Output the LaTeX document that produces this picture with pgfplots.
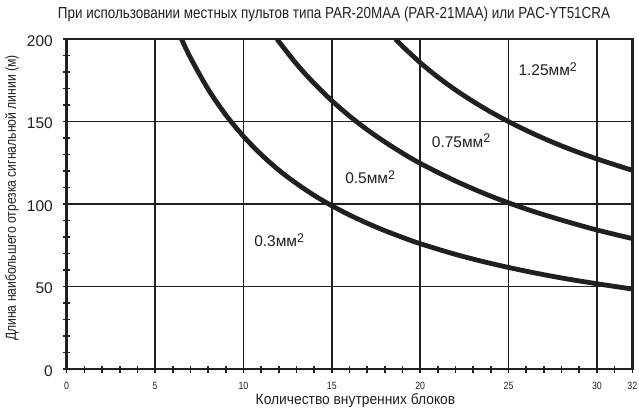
\documentclass[border=0pt]{standalone}
\usepackage{pgfplots}
\pgfplotsset{compat=1.18}
\usepackage{fontspec}
\setmainfont{Liberation Sans}
\newfontfamily\narrow{Liberation Sans}[FakeStretch=0.84]
\newfontfamily\narrowb{Liberation Sans}[FakeStretch=0.92]
\definecolor{ink}{HTML}{231F20}
\begin{document}
\begin{tikzpicture}
\begin{axis}[
  scale only axis, width=565.6pt, height=329.8pt,
  xmin=0, xmax=32, ymin=0, ymax=200,
  xtick={0,5,10,15,20,25,30,32}, ytick={0,50,100,150,200},
  minor xtick={1,...,31}, minor ytick={10,20,...,190},
  xtick pos=lower, ytick pos=left,
  grid=major,
  major grid style={line width=1.6pt, color=ink},
  axis line style={line width=2.6pt, color=ink},
  every tick/.style={line width=1.6pt, color=ink},
  tick align=center, major tick length=8pt, minor tick length=7pt,
  /pgf/number format/assume math mode=true,
  xticklabel style={font=\narrow\fontsize{10.5}{10.5}\selectfont, anchor=base, inner sep=0pt, text depth=0pt, yshift=-16.5pt, text=ink},
  yticklabel style={font=\fontsize{15.5}{15.5}\selectfont, anchor=east, inner sep=0pt, xshift=-9.7pt, yshift=-2pt, text=ink},
  title={При использовании местных пультов типа PAR-20MAA (PAR-21MAA) или PAC-YT51CRA},
  title style={font=\narrow\fontsize{16}{16}\selectfont, at={(axis description cs:0.4726,1)}, anchor=base, inner sep=0pt, yshift=14.2pt, text=ink},
  xlabel={Количество внутренних блоков},
  xlabel style={font=\narrowb\fontsize{15}{15}\selectfont, at={(axis description cs:0.5106,0)}, anchor=base, inner sep=0pt, text height=11pt, yshift=-35pt, text=ink},
  ylabel={Длина наибольшего отрезка сигнальной линии (м)},
  ylabel style={font=\narrow\fontsize{14.5}{14.5}\selectfont, at={([xshift=-54.7pt]axis description cs:0,0.5185)}, anchor=center, inner sep=0pt, text=ink},
]
\addplot[ink, line width=4.8pt, smooth] coordinates {
(6.5,200) (7,188.8) (8,169.7) (9,154.1) (10,141.1) (11,130.1) (12,120.6) (13,112.5) (14,105.3) (15,99) (16,93.4) (17,88.4) (18,83.9) (19,79.8) (20,76.0) (22,69.5) (24,64.0) (26,59.3) (28,55.2) (30,51.7) (32,48.5)
};
\addplot[ink, line width=4.8pt, smooth] coordinates {
(11.9,200) (13,185.0) (14,173.2) (15,162.7) (16,153.4) (17,145.1) (18,137.7) (19,130.9) (20,124.7) (22,114.0) (24,104.8) (26,97.0) (28,90.3) (30,84.3) (32,79.1)
};
\addplot[ink, line width=4.8pt, smooth] coordinates {
(18.6,200) (19,195.7) (20,185.8) (21,177.0) (22,169.2) (23,162.2) (24,155.8) (25,150.0) (26,144.7) (27,139.8) (28,135.3) (29,131.2) (30,127.4) (31,123.9) (32,120.5)
};
\node[anchor=base west, inner sep=0pt, text=ink, font=\fontsize{15.5}{15.5}\selectfont] at (axis cs:25.55,177.7) {1.25мм\raisebox{4.5pt}{\fontsize{12.5}{12.5}\selectfont 2}};
\node[anchor=base west, inner sep=0pt, text=ink, font=\fontsize{15.5}{15.5}\selectfont] at (axis cs:20.65,134.4) {0.75мм\raisebox{4.5pt}{\fontsize{12.5}{12.5}\selectfont 2}};
\node[anchor=base west, inner sep=0pt, text=ink, font=\fontsize{15.5}{15.5}\selectfont] at (axis cs:15.75,112.2) {0.5мм\raisebox{4.5pt}{\fontsize{12.5}{12.5}\selectfont 2}};
\node[anchor=base west, inner sep=0pt, text=ink, font=\fontsize{15.5}{15.5}\selectfont] at (axis cs:10.6,74.2) {0.3мм\raisebox{4.5pt}{\fontsize{12.5}{12.5}\selectfont 2}};
\end{axis}
\pgfresetboundingbox
\path ([xshift=-66.7pt,yshift=-38pt]current axis.south west) rectangle ([xshift=6.7pt,yshift=39.2pt]current axis.north east);
\end{tikzpicture}
\end{document}
